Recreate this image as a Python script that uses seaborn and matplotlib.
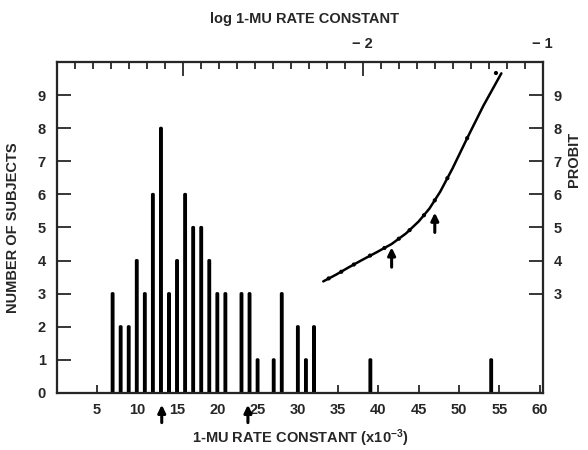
import numpy as np
import pandas as pd
import matplotlib.pyplot as plt
import seaborn as sns

# histogram: number of subjects per 1-MU rate constant (x10^-3)
rate = [7, 8, 9, 10, 11, 12, 13, 14, 15, 16, 17, 18, 19, 20, 21, 23, 24, 25, 27, 28, 30, 31, 32, 39, 54]
subjects = [3, 2, 2, 4, 3, 6, 8, 3, 4, 6, 5, 5, 4, 3, 3, 3, 3, 1, 1, 3, 2, 1, 2, 1, 1]

# probit curve vs log rate constant (top / right axes)
log_rate = [-2.22, -2.15, -2.08, -2.00, -1.92, -1.84, -1.76, -1.69, -1.63, -1.57, -1.50, -1.42, -1.33, -1.23]
probit = [3.37, 3.57, 3.79, 4.03, 4.26, 4.50, 4.82, 5.18, 5.57, 6.08, 6.80, 7.70, 8.68, 9.66]
pt_log = [-2.19, -2.12, -2.05, -1.96, -1.88, -1.80, -1.74, -1.66, -1.60, -1.53, -1.42, -1.26]
pt_probit = [3.46, 3.66, 3.88, 4.15, 4.38, 4.66, 4.92, 5.37, 5.82, 6.49, 7.70, 9.67]

# arrow markers
hist_arrows = [13.1, 23.8]
probit_arrows = [-1.84, -1.60]
probit_arrow_tip = [4.4, 5.45]

sns.set_style('ticks')
plt.rcParams['font.family'] = ['Liberation Sans', 'DejaVu Sans']
plt.rcParams['font.weight'] = 'bold'
plt.rcParams['mathtext.fontset'] = 'custom'
plt.rcParams['mathtext.rm'] = 'Liberation Sans:bold'
plt.rcParams['mathtext.default'] = 'rm'
plt.rcParams['axes.linewidth'] = 1.5

arrow_style = dict(arrowstyle='-|>,head_width=0.22,head_length=0.45', color='black', lw=2.2,
                   shrinkA=0, shrinkB=0)

fig = plt.figure(figsize=(5.88, 4.5), dpi=100)
ax = fig.add_axes([0.097, 0.127, 0.826, 0.735])

df = pd.DataFrame({'rate': rate, 'subjects': subjects})
sns.barplot(data=df, x='rate', y='subjects', native_scale=True, width=0.1,
            color='black', saturation=1, errorbar=None, edgecolor='black',
            linewidth=2.2, ax=ax)
for p in ax.patches:
    p.set_joinstyle('round')
    p.set_snap(False)
ax.set_xlim(0.1, 60.4)
ax.set_ylim(0, 10)
ax.set_xticks(range(5, 61, 5))
ax.set_yticks(range(0, 10))
ax.tick_params(axis='x', direction='in', length=6, width=1.3, labelsize=10.5, pad=7)
ax.tick_params(axis='y', direction='in', length=10, width=1.3, labelsize=10.5, pad=8)
ax.set_xlabel('1-MU RATE CONSTANT (x10$^{-3}$)', fontsize=10.5, fontweight='bold')
ax.set_ylabel('NUMBER OF SUBJECTS', fontsize=10.5, fontweight='bold')
ax.xaxis.set_label_coords(0.5, -0.105)
ax.yaxis.set_label_coords(-0.076, 0.5)

for x in hist_arrows:
    ax.annotate('', xy=(x, -0.36), xytext=(x, -0.9), annotation_clip=False, arrowprops=arrow_style)

# right axis: probit
ax2 = ax.twinx()
ax2.set_ylim(0, 10)
ax2.set_yticks(range(3, 10))
ax2.tick_params(axis='y', direction='in', length=10, width=1.3, labelsize=10.5, pad=8)
ax2.set_ylabel('PROBIT', fontsize=10.5, fontweight='bold', rotation=90)
ax2.yaxis.set_label_coords(1.049, 0.706)

# top axis: log rate constant
ax3 = ax2.twiny()
sns.lineplot(x=log_rate, y=probit, color='black', lw=1.8, sort=False, ax=ax3)
sns.scatterplot(x=pt_log, y=pt_probit, color='black', s=9, edgecolor='none', ax=ax3)
ax3.set_xlim(-3.7, -1.0)
ax3.set_ylim(0, 10)
ax3.set_xticks([-3, -2, -1])
ax3.set_xticklabels(['', '\u2212 2', '\u2212 1'])
ax3.set_xticks(np.arange(-3.6, -1.05, 0.1), minor=True)
ax3.tick_params(axis='x', which='major', direction='in', length=10, width=1.3, labelsize=10.5, pad=8)
ax3.tick_params(axis='x', which='minor', direction='in', length=5, width=1.3)
ax3.set_xlabel('log 1-MU RATE CONSTANT', fontsize=10.5, fontweight='bold')
ax3.xaxis.set_label_coords(0.51, 1.118)

for x, tip in zip(probit_arrows, probit_arrow_tip):
    ax3.annotate('', xy=(x, tip), xytext=(x, tip - 0.6), arrowprops=arrow_style)

fig.savefig('out.png', dpi=100)
